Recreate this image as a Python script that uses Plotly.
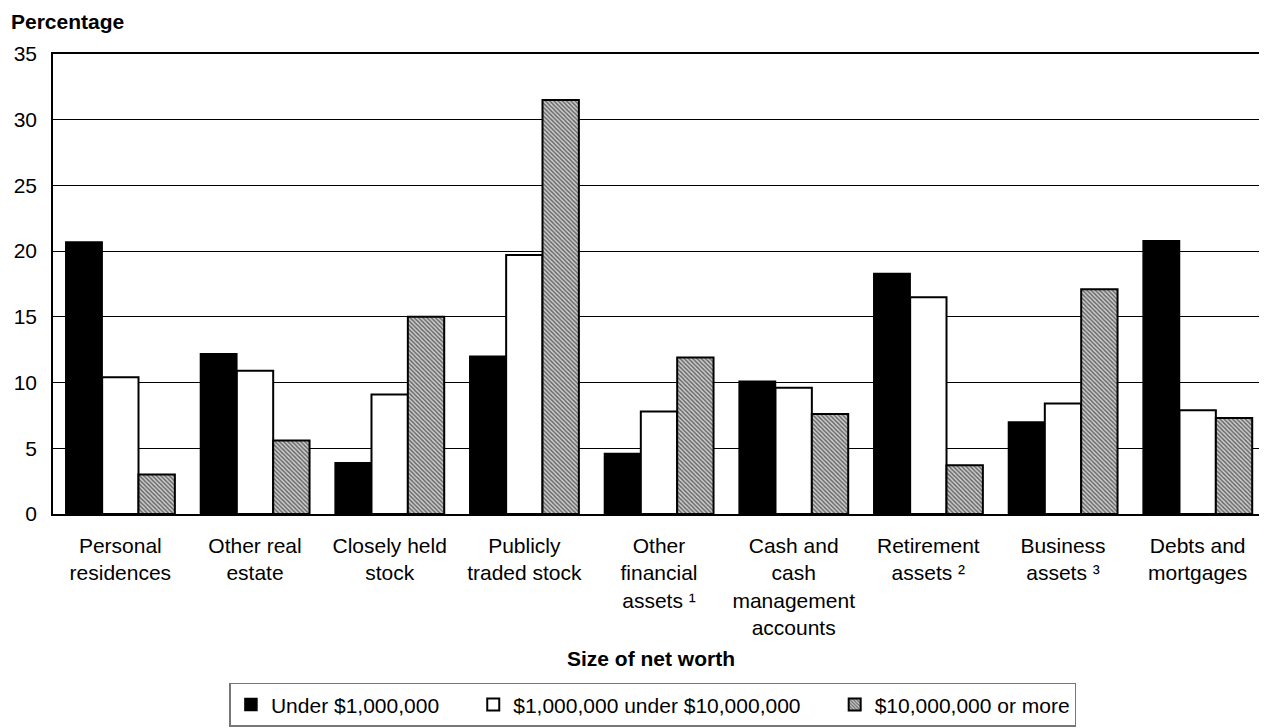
import plotly.graph_objects as go

categories = [
    "Personal<br>residences",
    "Other real<br>estate",
    "Closely held<br>stock",
    "Publicly<br>traded stock",
    "Other<br>financial<br>assets \u00b9",
    "Cash and<br>cash<br>management<br>accounts",
    "Retirement<br>assets \u00b2",
    "Business<br>assets \u00b3",
    "Debts and<br>mortgages",
]

under_1m = [20.7, 12.2, 3.9, 12.0, 4.6, 10.1, 18.3, 7.0, 20.8]
from_1m_to_10m = [10.4, 10.9, 9.1, 19.7, 7.8, 9.6, 16.5, 8.4, 7.9]
over_10m = [3.0, 5.6, 15.0, 31.5, 11.9, 7.6, 3.7, 17.1, 7.3]

pad = "\u00a0" * 5  # keeps the legend entries spaced out like the original
series_names = ["Under $1,000,000" + pad, "$1,000,000 under $10,000,000" + pad, "$10,000,000 or more"]

fig = go.Figure()

fig.add_trace(go.Bar(
    x=categories, y=under_1m, name=series_names[0],
    marker=dict(color="black", line=dict(color="black", width=1.5)),
))
fig.add_trace(go.Bar(
    x=categories, y=from_1m_to_10m, name=series_names[1],
    marker=dict(color="white", line=dict(color="black", width=2)),
))
fig.add_trace(go.Bar(
    x=categories, y=over_10m, name=series_names[2],
    marker=dict(
        color="#999999",
        line=dict(color="black", width=2),
        pattern=dict(shape="\\", fgcolor="black", bgcolor="#d0d0d0", size=3, solidity=0.5),
    ),
))

# page body has an 8px margin, so the figure is 8px smaller on each side
fig.update_layout(
    width=1259, height=720,
    barmode="group", bargap=0.19, bargroupgap=0,
    plot_bgcolor="white", paper_bgcolor="white",
    font=dict(family="Liberation Sans, Arial, sans-serif", size=21, color="black"),
    margin=dict(l=45, r=2, t=46, b=213),
    xaxis=dict(
        showline=True, linecolor="black", linewidth=1.5, mirror=True,
        ticks="", tickfont=dict(size=21), tickangle=0, ticklabelstandoff=12,
        automargin=False,
    ),
    yaxis=dict(
        range=[0, 35], dtick=5,
        showgrid=True, gridcolor="black", gridwidth=1.2,
        showline=True, linecolor="black", linewidth=1.5,
        zeroline=False, ticks="", tickfont=dict(size=21), ticklabelstandoff=10,
        automargin=False,
    ),
    legend=dict(
        orientation="h", x=0.495, xanchor="center", y=-0.364, yanchor="top",
        bordercolor="#777777", borderwidth=1.5, font=dict(size=21),
        traceorder="normal",
    ),
    annotations=[
        dict(
            text="<b>Percentage</b>", xref="paper", yref="paper",
            x=-0.036, y=1.07, xanchor="left", yanchor="middle",
            showarrow=False, font=dict(size=21),
        ),
        dict(
            text="<b>Size of net worth</b>", xref="paper", yref="paper",
            x=0.493, y=-0.3145, xanchor="center", yanchor="middle",
            showarrow=False, font=dict(size=21),
        ),
    ],
)

fig.write_html("out.html")
